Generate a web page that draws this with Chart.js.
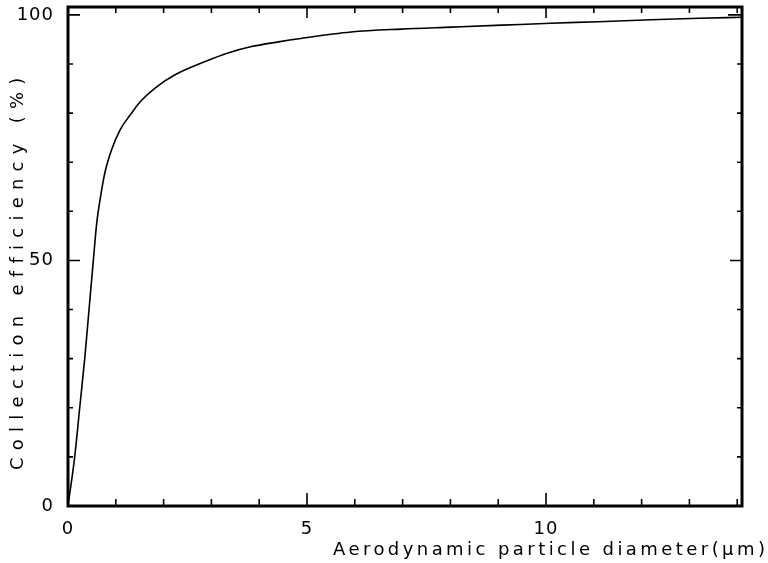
<!DOCTYPE html>
<html>
<head>
    <title>Collection efficiency</title>
    <script src="https://cdn.jsdelivr.net/npm/chart.js"></script>
    <style>
        body {
            margin: 0;
            background-color: #ffffff;
        }
        canvas {
            display: block;
        }
    </style>
</head>
<body>
    <canvas id="chart" width="768" height="563"></canvas>
    <script>
        // Efficiency curve: aerodynamic diameter (um) vs collection efficiency (%)
        const diameter = [0, 0.14, 0.245, 0.35, 0.44, 0.53, 0.6, 0.67, 0.77, 0.91, 1.09, 1.3, 1.51, 1.82,
                          2.24, 2.87, 3.33, 3.82, 4.4, 4.87, 5.92, 6.97, 8.03, 9.08, 10.1, 11.1, 12.2, 13.2, 14.1];
        const efficiency = [0, 10, 20, 30, 40, 50, 57.5, 62.3, 67.8, 72.5, 76.6, 79.6, 82.3, 85.1,
                            87.8, 90.5, 92.2, 93.5, 94.5, 95.2, 96.5, 97.1, 97.5, 97.9, 98.3, 98.6, 99.0, 99.3, 99.5];

        const xTicks = [0, 1, 2, 3, 4, 5, 6, 7, 8, 9, 10, 11, 12, 13, 14];
        const yTicks = [0, 10, 20, 30, 40, 50, 60, 70, 80, 90, 100];
        const xLabels = [0, 5, 10];
        const yLabels = [0, 50, 100];
        const xTitle = 'Aerodynamic particle diameter(\u03bcm)';
        const yTitle = 'Collection efficiency (%)';

        const FONT = '"DejaVu Sans", sans-serif';

        // box around the plot with inward tick marks on all four sides
        const framePlugin = {
            id: 'frame',
            beforeDraw(chart) {
                chart.ctx.letterSpacing = '1px';
            },
            afterDraw(chart) {
                const { ctx, chartArea: a, scales } = chart;
                const x = scales.x, y = scales.y;
                ctx.save();
                ctx.strokeStyle = '#000';
                ctx.lineCap = 'butt';

                ctx.lineWidth = 1.6;
                ctx.beginPath();
                xTicks.forEach(v => {
                    const px = x.getPixelForValue(v);
                    const bottomLen = xLabels.includes(v) ? 13 : 7;
                    const topLen = xLabels.includes(v) ? 11 : 6;
                    ctx.moveTo(px, a.bottom);
                    ctx.lineTo(px, a.bottom - bottomLen);
                    ctx.moveTo(px, a.top);
                    ctx.lineTo(px, a.top + topLen);
                });
                yTicks.forEach(v => {
                    const py = y.getPixelForValue(v);
                    const len = yLabels.includes(v) ? 12 : 5;
                    ctx.moveTo(a.left, py);
                    ctx.lineTo(a.left + len, py);
                    ctx.moveTo(a.right, py);
                    ctx.lineTo(a.right - (v === 100 ? 14 : len), py);
                });
                ctx.stroke();

                ctx.lineWidth = 3;
                ctx.strokeRect(a.left, a.top, a.right - a.left, a.bottom - a.top);

                // axis titles, spread to their printed widths
                ctx.fillStyle = '#000';
                ctx.font = '18px ' + FONT;
                ctx.textBaseline = 'middle';
                ctx.textAlign = 'left';

                ctx.letterSpacing = '0px';
                let w = ctx.measureText(xTitle).width;
                ctx.letterSpacing = ((432 - w) / (xTitle.length - 1)) + 'px';
                ctx.fillText(xTitle, 333, 550);

                ctx.letterSpacing = '0px';
                w = ctx.measureText(yTitle).width;
                ctx.letterSpacing = ((392 - w) / (yTitle.length - 1)) + 'px';
                ctx.translate(18, 470);
                ctx.rotate(-Math.PI / 2);
                ctx.fillText(yTitle, 0, 0);
                ctx.restore();
            }
        };

        const ctx = document.getElementById('chart').getContext('2d');
        new Chart(ctx, {
            type: 'scatter',
            data: {
                datasets: [{
                    data: diameter.map((d, i) => ({ x: d, y: efficiency[i] })),
                    showLine: true,
                    borderColor: '#000',
                    borderWidth: 1.6,
                    pointRadius: 0,
                    cubicInterpolationMode: 'monotone'
                }]
            },
            options: {
                responsive: false,
                animation: false,
                layout: { padding: { top: 7, right: 26, left: 0, bottom: 0 } },
                plugins: {
                    legend: { display: false },
                    tooltip: { enabled: false }
                },
                scales: {
                    x: {
                        type: 'linear',
                        min: 0,
                        max: 14.1,
                        grid: { display: false },
                        border: { display: false },
                        afterBuildTicks: s => { s.ticks = xTicks.map(v => ({ value: v })); },
                        afterFit: s => { s.height = 57; s.paddingLeft = 0; s.paddingRight = 0; },
                        ticks: {
                            autoSkip: false,
                            maxRotation: 0,
                            padding: 5,
                            color: '#000',
                            font: { family: FONT, size: 18 },
                            callback: v => xLabels.includes(v) ? String(v) : ''
                        }
                    },
                    y: {
                        type: 'linear',
                        min: 0,
                        max: 101.6,
                        grid: { display: false },
                        border: { display: false },
                        afterBuildTicks: s => { s.ticks = yTicks.map(v => ({ value: v })); },
                        afterFit: s => { s.width = 68; s.paddingTop = 0; s.paddingBottom = 0; },
                        ticks: {
                            autoSkip: false,
                            padding: 6,
                            color: '#000',
                            font: { family: FONT, size: 18 },
                            callback: v => yLabels.includes(v) ? String(v) : ''
                        }
                    }
                }
            },
            plugins: [framePlugin]
        });
    </script>
</body>
</html>
